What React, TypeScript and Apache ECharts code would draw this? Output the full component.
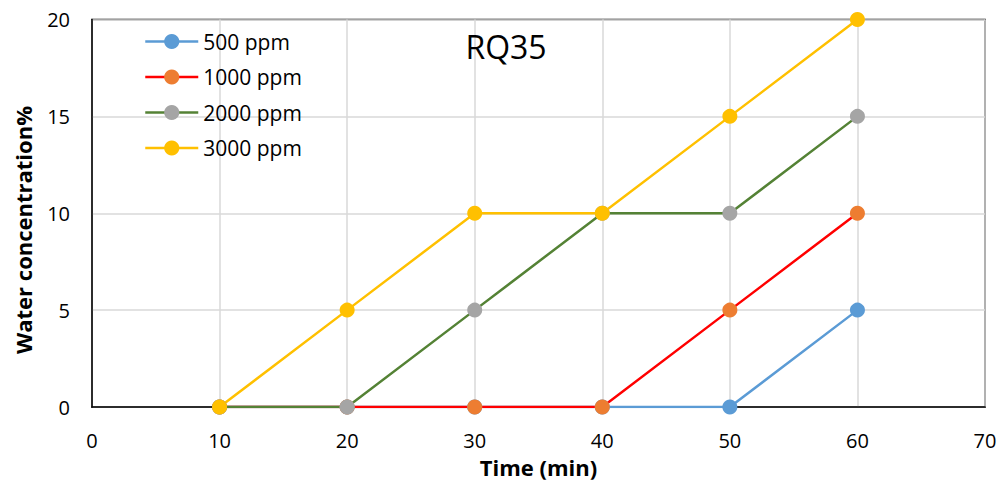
import React, { useEffect, useRef } from "react";
import * as echarts from "echarts";

const times = [10, 20, 30, 40, 50, 60];
const s500 = [0, 0, 0, 0, 0, 5];
const s1000 = [0, 0, 0, 0, 5, 10];
const s2000 = [0, 0, 5, 10, 10, 15];
const s3000 = [0, 5, 10, 10, 15, 20];
const seriesNames = ["500 ppm", "1000 ppm", "2000 ppm", "3000 ppm"];
const lineColors = ["#5b9bd5", "#ff0000", "#548235", "#ffc000"];
const markerColors = ["#5b9bd5", "#ed7d31", "#a5a5a5", "#ffc000"];
const yTitle = "Water concentration%";
const xTitle = "Time (min)";
const chartTitle = "RQ35";

const FONT = "Open Sans";

export default function App() {
  const ref = useRef<HTMLDivElement>(null);
  useEffect(() => {
    if (!ref.current) return;
    const chart = echarts.init(ref.current, undefined, { renderer: "svg" });
    const all = [s500, s1000, s2000, s3000];
    chart.setOption({
      animation: false,
      backgroundColor: "#ffffff",
      textStyle: { fontFamily: FONT },
      title: {
        text: chartTitle,
        left: 501,
        top: 25,
        textAlign: "center",
        textStyle: { fontFamily: FONT, fontSize: 32, fontWeight: "normal", color: "#000" },
      },
      legend: {
        orient: "vertical",
        left: 139,
        top: 26,
        itemWidth: 53,
        itemHeight: 19,
        itemGap: 14.5,
        lineStyle: { width: 2.5 },
        textStyle: { fontFamily: FONT, fontSize: 21, color: "#000", lineHeight: 20 },
        data: seriesNames,
      },
      graphic: [
        {
          type: "text",
          x: 23,
          y: 230,
          rotation: Math.PI / 2,
          style: {
            text: yTitle,
            textAlign: "center",
            textVerticalAlign: "middle",
            fontFamily: FONT,
            fontSize: 22,
            fontWeight: "bold",
            fill: "#000",
          },
        },
      ],
      grid: {
        left: 92,
        right: 15,
        top: 19.5,
        bottom: 75,
        show: true,
        borderColor: "#000",
        borderWidth: 1.5,
        containLabel: false,
        outerBoundsMode: "none",
      },
      xAxis: {
        type: "value",
        min: 0,
        max: 70,
        interval: 10,
        name: xTitle,
        nameLocation: "middle",
        nameGap: 49,
        nameTextStyle: { fontFamily: FONT, fontSize: 22, fontWeight: "bold", color: "#000" },
        axisLine: { show: true, lineStyle: { color: "#000", width: 1.5 } },
        axisTick: { show: false },
        axisLabel: { fontFamily: FONT, fontSize: 20, color: "#000", margin: 23 },
        splitLine: { show: true, lineStyle: { color: "#d9d9d9", width: 1.5 } },
      },
      yAxis: {
        type: "value",
        min: 0,
        max: 20,
        interval: 5,
        axisLine: { show: true, lineStyle: { color: "#000", width: 1.5 } },
        axisTick: { show: false },
        axisLabel: { fontFamily: FONT, fontSize: 20, color: "#000", margin: 22 },
        splitLine: { show: true, lineStyle: { color: "#d9d9d9", width: 1.5 } },
      },
      series: seriesNames.map((name, i) => ({
        name,
        type: "line",
        data: times.map((t, j) => [t, all[i][j]]),
        symbol: "circle",
        symbolSize: 15,
        lineStyle: { color: lineColors[i], width: 2.5 },
        itemStyle: { color: markerColors[i], borderWidth: 0 },
        emphasis: { disabled: true },
      })),
    });
    return () => chart.dispose();
  }, []);
  return <div ref={ref} style={{ width: 1000, height: 482, position: "absolute", left: 0, top: 0 }} />;
}
